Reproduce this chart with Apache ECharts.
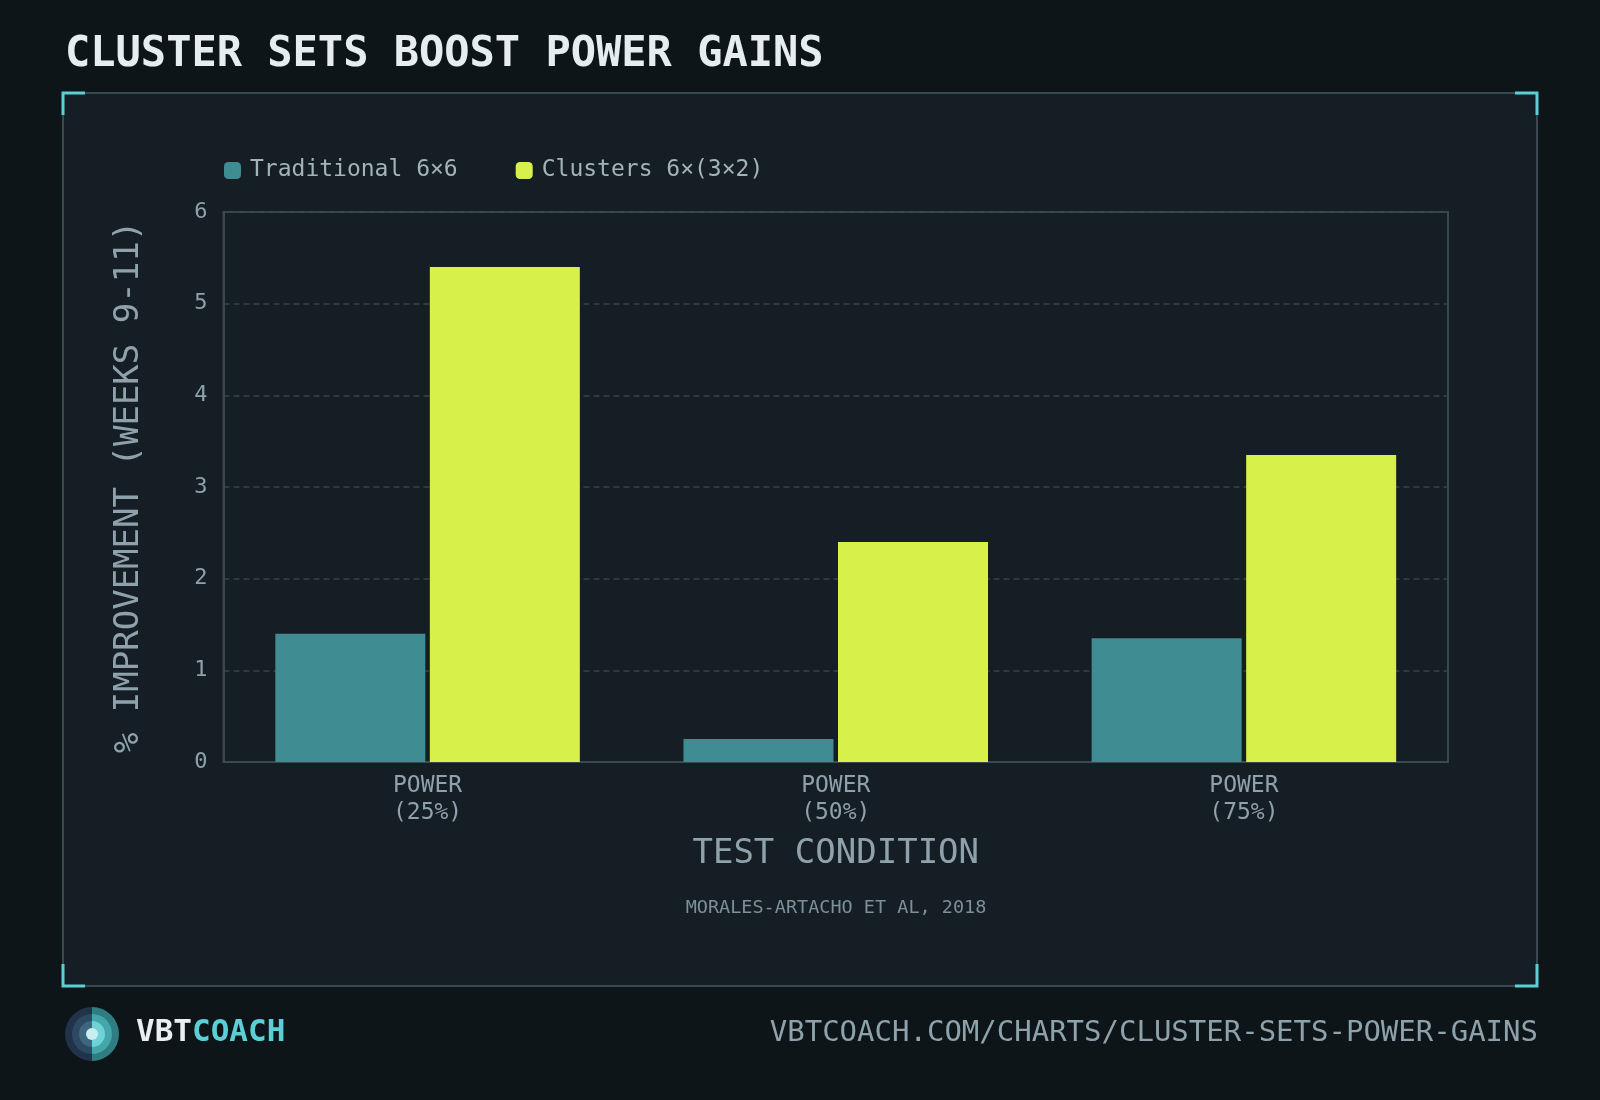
<!DOCTYPE html>
<html>
<head>
<meta charset="utf-8">
<title>Cluster sets boost power gains</title>
<script src="https://cdn.jsdelivr.net/npm/echarts@6/dist/echarts.min.js"></script>
<style>
  html, body { margin: 0; padding: 0; background: #0e1519; }
  #chart { width: 1600px; height: 1100px; }
</style>
</head>
<body>
<div id="chart"></div>
<script>
// --- Data ---
const categories = ['POWER\n(25%)', 'POWER\n(50%)', 'POWER\n(75%)'];
const traditional = [1.4, 0.25, 1.35];
const clusters = [5.4, 2.4, 3.35];
const seriesNames = ['Traditional 6×6', 'Clusters 6×(3×2)'];
const yTicks = [0, 6, 1]; // min, max, interval

// --- Style ---
const MONO = '"DejaVu Sans Mono", "Liberation Mono", monospace';
const CYAN = '#5ccfd6';
const TEAL = '#3f8c92';
const LIME = '#d8f04a';
const AXIS_TEXT = '#8fa2ab';
const LINE = '#3a484f';

// corner brackets for the panel (x, y are the corner, dx/dy the arm directions)
const corner = (x, y, dx, dy) => ({
    type: 'polyline',
    shape: { points: [[x, y + dy * 22], [x, y], [x + dx * 22, y]] },
    style: { stroke: CYAN, lineWidth: 3, fill: null },
    z: 10
});

// half-ring logo pieces
const half = (r, left, color) => ({
    type: 'sector',
    shape: {
        cx: 92, cy: 1034, r: r, r0: 0,
        startAngle: left ? Math.PI / 2 : -Math.PI / 2,
        endAngle: left ? Math.PI * 1.5 : Math.PI / 2,
        clockwise: true
    },
    style: { fill: color },
    z: 10
});

const chart = echarts.init(document.getElementById('chart'), null, { renderer: 'canvas' });

const option = {
    backgroundColor: '#0e1519',
    animation: false,
    textStyle: { fontFamily: MONO },
    graphic: [
        {
            type: 'rect',
            shape: { x: 63, y: 93, width: 1474, height: 893 },
            style: { fill: '#161e25', stroke: LINE, lineWidth: 2 },
            z: -10
        },
        corner(63, 93, 1, 1),
        corner(1537, 93, -1, 1),
        corner(63, 986, 1, -1),
        corner(1537, 986, -1, -1),
        {
            type: 'text',
            x: 65, y: 55,
            style: {
                text: 'CLUSTER SETS BOOST POWER GAINS',
                font: 'bold 42px ' + MONO,
                fill: '#e6edf0',
                verticalAlign: 'middle'
            }
        },
        {
            type: 'text',
            x: 836, y: 908,
            style: {
                text: 'MORALES-ARTACHO ET AL, 2018',
                font: '18.5px ' + MONO,
                fill: '#7d8f98',
                align: 'center', verticalAlign: 'middle'
            }
        },
        half(27, true, '#21334a'), half(27, false, '#2e7d82'),
        half(20, true, '#2c4961'), half(20, false, '#44a5aa'),
        half(13, true, '#3f6580'), half(13, false, '#6fd2d7'),
        {
            type: 'circle',
            shape: { cx: 92, cy: 1034, r: 6 },
            style: { fill: '#c9eef0' },
            z: 11
        },
        {
            type: 'text',
            x: 136, y: 1033,
            style: {
                text: '{a|VBT}{b|COACH}',
                verticalAlign: 'middle',
                rich: {
                    a: { font: 'bold 31px ' + MONO, fill: '#e9eef0' },
                    b: { font: 'bold 31px ' + MONO, fill: CYAN }
                }
            }
        },
        {
            type: 'text',
            x: 1538, y: 1033,
            style: {
                text: 'VBTCOACH.COM/CHARTS/CLUSTER-SETS-POWER-GAINS',
                font: '29px ' + MONO,
                fill: '#8ea2ab',
                align: 'right', verticalAlign: 'middle'
            }
        }
    ],
    legend: {
        left: 224, top: 159, padding: 0,
        itemWidth: 17, itemHeight: 17, itemGap: 58,
        icon: 'roundRect',
        textStyle: { color: '#a3b3ba', fontSize: 23, fontFamily: MONO, padding: [0, 0, 0, 4] },
        data: seriesNames
    },
    grid: {
        left: 223.5, right: 152, top: 212, bottom: 338,
        show: true, borderColor: LINE, borderWidth: 2, backgroundColor: 'transparent'
    },
    xAxis: {
        type: 'category',
        data: categories,
        name: 'TEST CONDITION',
        nameLocation: 'middle',
        nameGap: 75,
        nameTextStyle: { color: AXIS_TEXT, fontSize: 34, fontFamily: MONO },
        axisLine: { lineStyle: { color: LINE, width: 2 } },
        axisTick: { show: false },
        axisLabel: { color: AXIS_TEXT, fontSize: 23, lineHeight: 27, margin: 11, fontFamily: MONO }
    },
    yAxis: {
        type: 'value',
        min: yTicks[0], max: yTicks[1], interval: yTicks[2],
        name: '% IMPROVEMENT (WEEKS 9-11)',
        nameLocation: 'middle',
        nameGap: 77,
        nameTextStyle: { color: AXIS_TEXT, fontSize: 34, fontFamily: MONO },
        axisLine: { show: true, lineStyle: { color: LINE, width: 2 } },
        axisTick: { show: false },
        axisLabel: { color: AXIS_TEXT, fontSize: 22, margin: 16, fontFamily: MONO },
        splitLine: { lineStyle: { color: '#34434a', type: [6, 4], width: 1.5 } }
    },
    series: [
        {
            name: seriesNames[0], type: 'bar', data: traditional,
            barWidth: 150, barGap: '3%',
            itemStyle: { color: TEAL }
        },
        {
            name: seriesNames[1], type: 'bar', data: clusters,
            barWidth: 150,
            itemStyle: { color: LIME }
        }
    ]
};

chart.setOption(option);
</script>
</body>
</html>
